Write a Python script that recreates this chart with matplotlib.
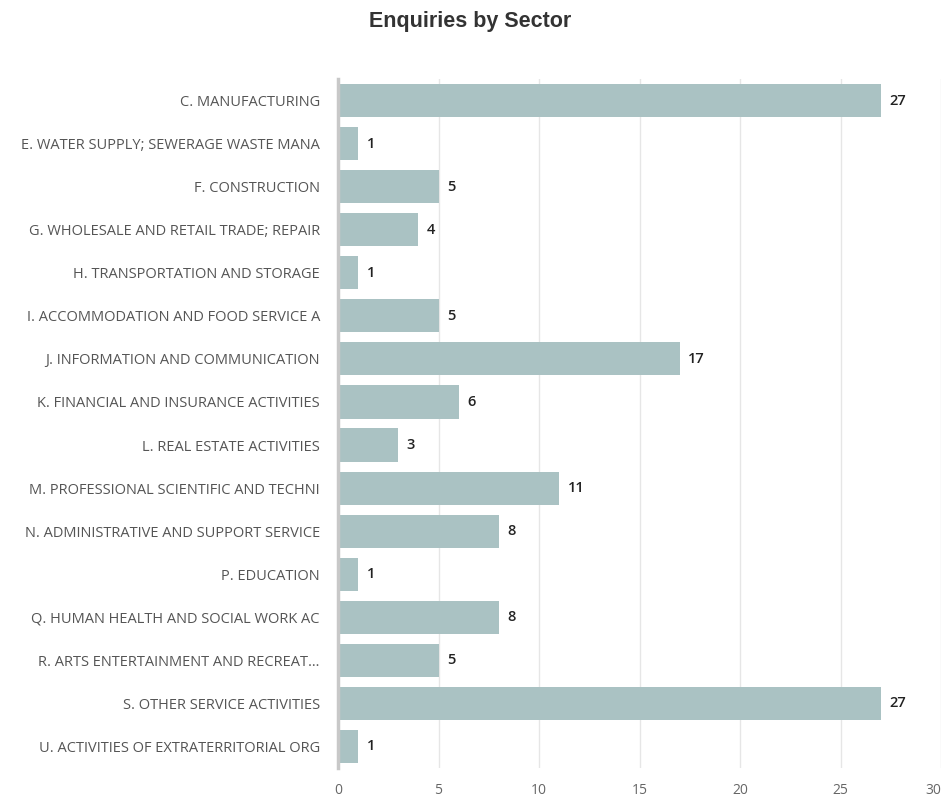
import matplotlib
matplotlib.use("Agg")
import matplotlib.pyplot as plt

categories = [
    "C. MANUFACTURING",
    "E. WATER SUPPLY; SEWERAGE WASTE MANA",
    "F. CONSTRUCTION",
    "G. WHOLESALE AND RETAIL TRADE; REPAIR",
    "H. TRANSPORTATION AND STORAGE",
    "I. ACCOMMODATION AND FOOD SERVICE A",
    "J. INFORMATION AND COMMUNICATION",
    "K. FINANCIAL AND INSURANCE ACTIVITIES",
    "L. REAL ESTATE ACTIVITIES",
    "M. PROFESSIONAL SCIENTIFIC AND TECHNI",
    "N. ADMINISTRATIVE AND SUPPORT SERVICE",
    "P. EDUCATION",
    "Q. HUMAN HEALTH AND SOCIAL WORK AC",
    "R. ARTS ENTERTAINMENT AND RECREAT\u2026",
    "S. OTHER SERVICE ACTIVITIES",
    "U. ACTIVITIES OF EXTRATERRITORIAL ORG",
]
values = [27, 1, 5, 4, 1, 5, 17, 6, 3, 11, 8, 1, 8, 5, 27, 1]
xticks = [0, 5, 10, 15, 20, 25, 30]
title = "Enquiries by Sector"

W, H = 943, 797
fig = plt.figure(figsize=(W / 100, H / 100), dpi=100)
ax = fig.add_axes([338 / W, 1 - 768 / H, (941 - 338) / W, (768 - 79) / H])

ypos = list(range(len(categories)))
ax.barh(ypos, values, height=0.77, color="#aac2c3", zorder=2)
ax.set_ylim(len(categories) - 0.5, -0.5)
ax.set_xlim(0, 30)
ax.set_xticks(xticks)
xl = ax.set_xticklabels([str(t) for t in xticks], fontfamily="Open Sans",
                        fontsize=10, color="#666666")
xl[-1].set_horizontalalignment("right")
ax.set_yticks(ypos)
ax.set_yticklabels(categories, fontfamily="Open Sans", fontsize=10.5,
                   color="#555555")
ax.tick_params(axis="y", length=0, pad=13)
ax.tick_params(axis="x", length=0, pad=11)
ax.grid(axis="x", color="#e6e6e6", linewidth=1, zorder=0)
for s in ["top", "right", "bottom"]:
    ax.spines[s].set_visible(False)
ax.spines["left"].set_color("#c8c8c8")
ax.spines["left"].set_linewidth(2.5)
ax.spines["left"].set_zorder(3)

for y, v in zip(ypos, values):
    ax.annotate(str(v), (v, y), xytext=(6, 0), textcoords="offset points",
                ha="left", va="center", fontfamily="Open Sans",
                fontweight="semibold", fontsize=10.5, color="#222222")

fig.text(470 / W, 1 - 22 / H, title, ha="center", va="center",
         fontfamily="Liberation Sans", fontweight="bold", fontsize=15.5,
         color="#333333")

fig.savefig("out.png", dpi=100)
